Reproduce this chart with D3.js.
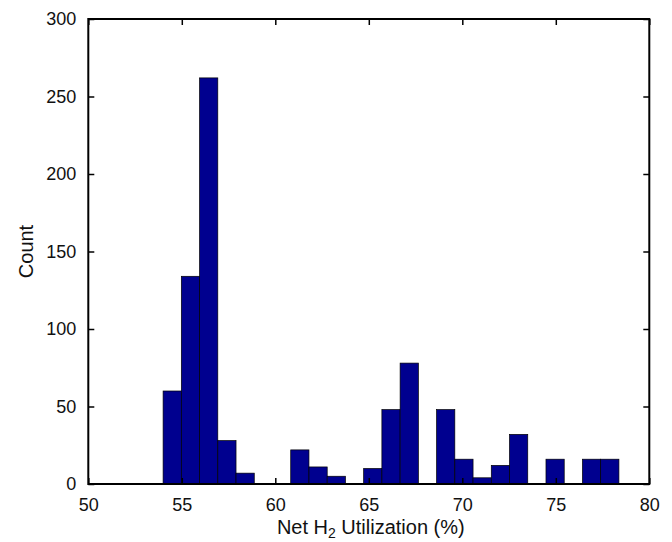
<!DOCTYPE html>
<html>
<head>
<meta charset="utf-8">
<script src="https://cdn.jsdelivr.net/npm/d3@7"></script>
<style>
  html, body { margin: 0; padding: 0; background: #fff; }
  svg text { font-family: "Liberation Sans", Arial, Helvetica, sans-serif; fill: #111; }
</style>
</head>
<body>
<svg id="chart" width="672" height="542"></svg>
<script>
// Histogram of net H2 utilization: 25 equal-width bins
const binStart = 54.0;     // lower edge of the first bin (%)
const binWidth = 0.975;    // width of each bin (%)
const counts = [60, 134, 262, 28, 7, 0, 0, 22, 11, 5, 0, 10, 48, 78, 0,
                48, 16, 4, 12, 32, 0, 16, 0, 16, 16];

const xTicks = [50, 55, 60, 65, 70, 75, 80];
const yTicks = [0, 50, 100, 150, 200, 250, 300];
const xDomain = [50, 80];
const yDomain = [0, 300];

const svg = d3.select("#chart");
const plotLeft = 88.3, plotRight = 649.3, plotTop = 19, plotBottom = 484;

const x = d3.scaleLinear().domain(xDomain).range([plotLeft, plotRight]);
const y = d3.scaleLinear().domain(yDomain).range([plotBottom, plotTop]);

const bins = counts.map((c, i) => ({
  x0: binStart + i * binWidth,
  x1: binStart + (i + 1) * binWidth,
  count: c
}));

// bars
svg.append("g")
  .selectAll("rect")
  .data(bins.filter(d => d.count > 0))
  .join("rect")
  .attr("x", d => x(d.x0))
  .attr("width", d => x(d.x1) - x(d.x0))
  .attr("y", d => y(d.count))
  .attr("height", d => y(0) - y(d.count))
  .attr("fill", "#00008f")
  .attr("stroke", "#000")
  .attr("stroke-width", 0.7);

const fontSize = "18px";
const tickLen = 6;

// bottom axis (ticks pointing inward)
const gx = svg.append("g")
  .attr("transform", `translate(0,${plotBottom})`)
  .call(d3.axisBottom(x).tickValues(xTicks).tickSize(-tickLen).tickPadding(tickLen + 8));
gx.selectAll("text").style("font-size", fontSize);

// top axis mirror ticks
svg.append("g")
  .attr("transform", `translate(0,${plotTop})`)
  .call(d3.axisTop(x).tickValues(xTicks).tickSize(-tickLen).tickFormat(""));

// left axis
const gy = svg.append("g")
  .attr("transform", `translate(${plotLeft},0)`)
  .call(d3.axisLeft(y).tickValues(yTicks).tickSize(-tickLen).tickPadding(tickLen + 6));
gy.selectAll("text").style("font-size", fontSize);

// right axis mirror ticks
svg.append("g")
  .attr("transform", `translate(${plotRight},0)`)
  .call(d3.axisRight(y).tickValues(yTicks).tickSize(-tickLen).tickFormat(""));

svg.selectAll(".domain").remove();
svg.selectAll(".tick line").attr("stroke", "#000").attr("stroke-width", 1.5);

// frame
svg.append("rect")
  .attr("x", plotLeft).attr("y", plotTop)
  .attr("width", plotRight - plotLeft).attr("height", plotBottom - plotTop)
  .attr("fill", "none").attr("stroke", "#000").attr("stroke-width", 2);

// axis titles
const xt = svg.append("text")
  .attr("x", (plotLeft + plotRight) / 2 + 2)
  .attr("y", 534)
  .attr("text-anchor", "middle")
  .style("font-size", "20px");
xt.append("tspan").text("Net H");
xt.append("tspan").attr("dy", 3.5).style("font-size", "14px").text("2");
xt.append("tspan").attr("dy", -3.5).text(" Utilization (%)");

svg.append("text")
  .attr("transform", `translate(33,${(plotTop + plotBottom) / 2}) rotate(-90)`)
  .attr("text-anchor", "middle")
  .style("font-size", "20px")
  .text("Count");
</script>
</body>
</html>
